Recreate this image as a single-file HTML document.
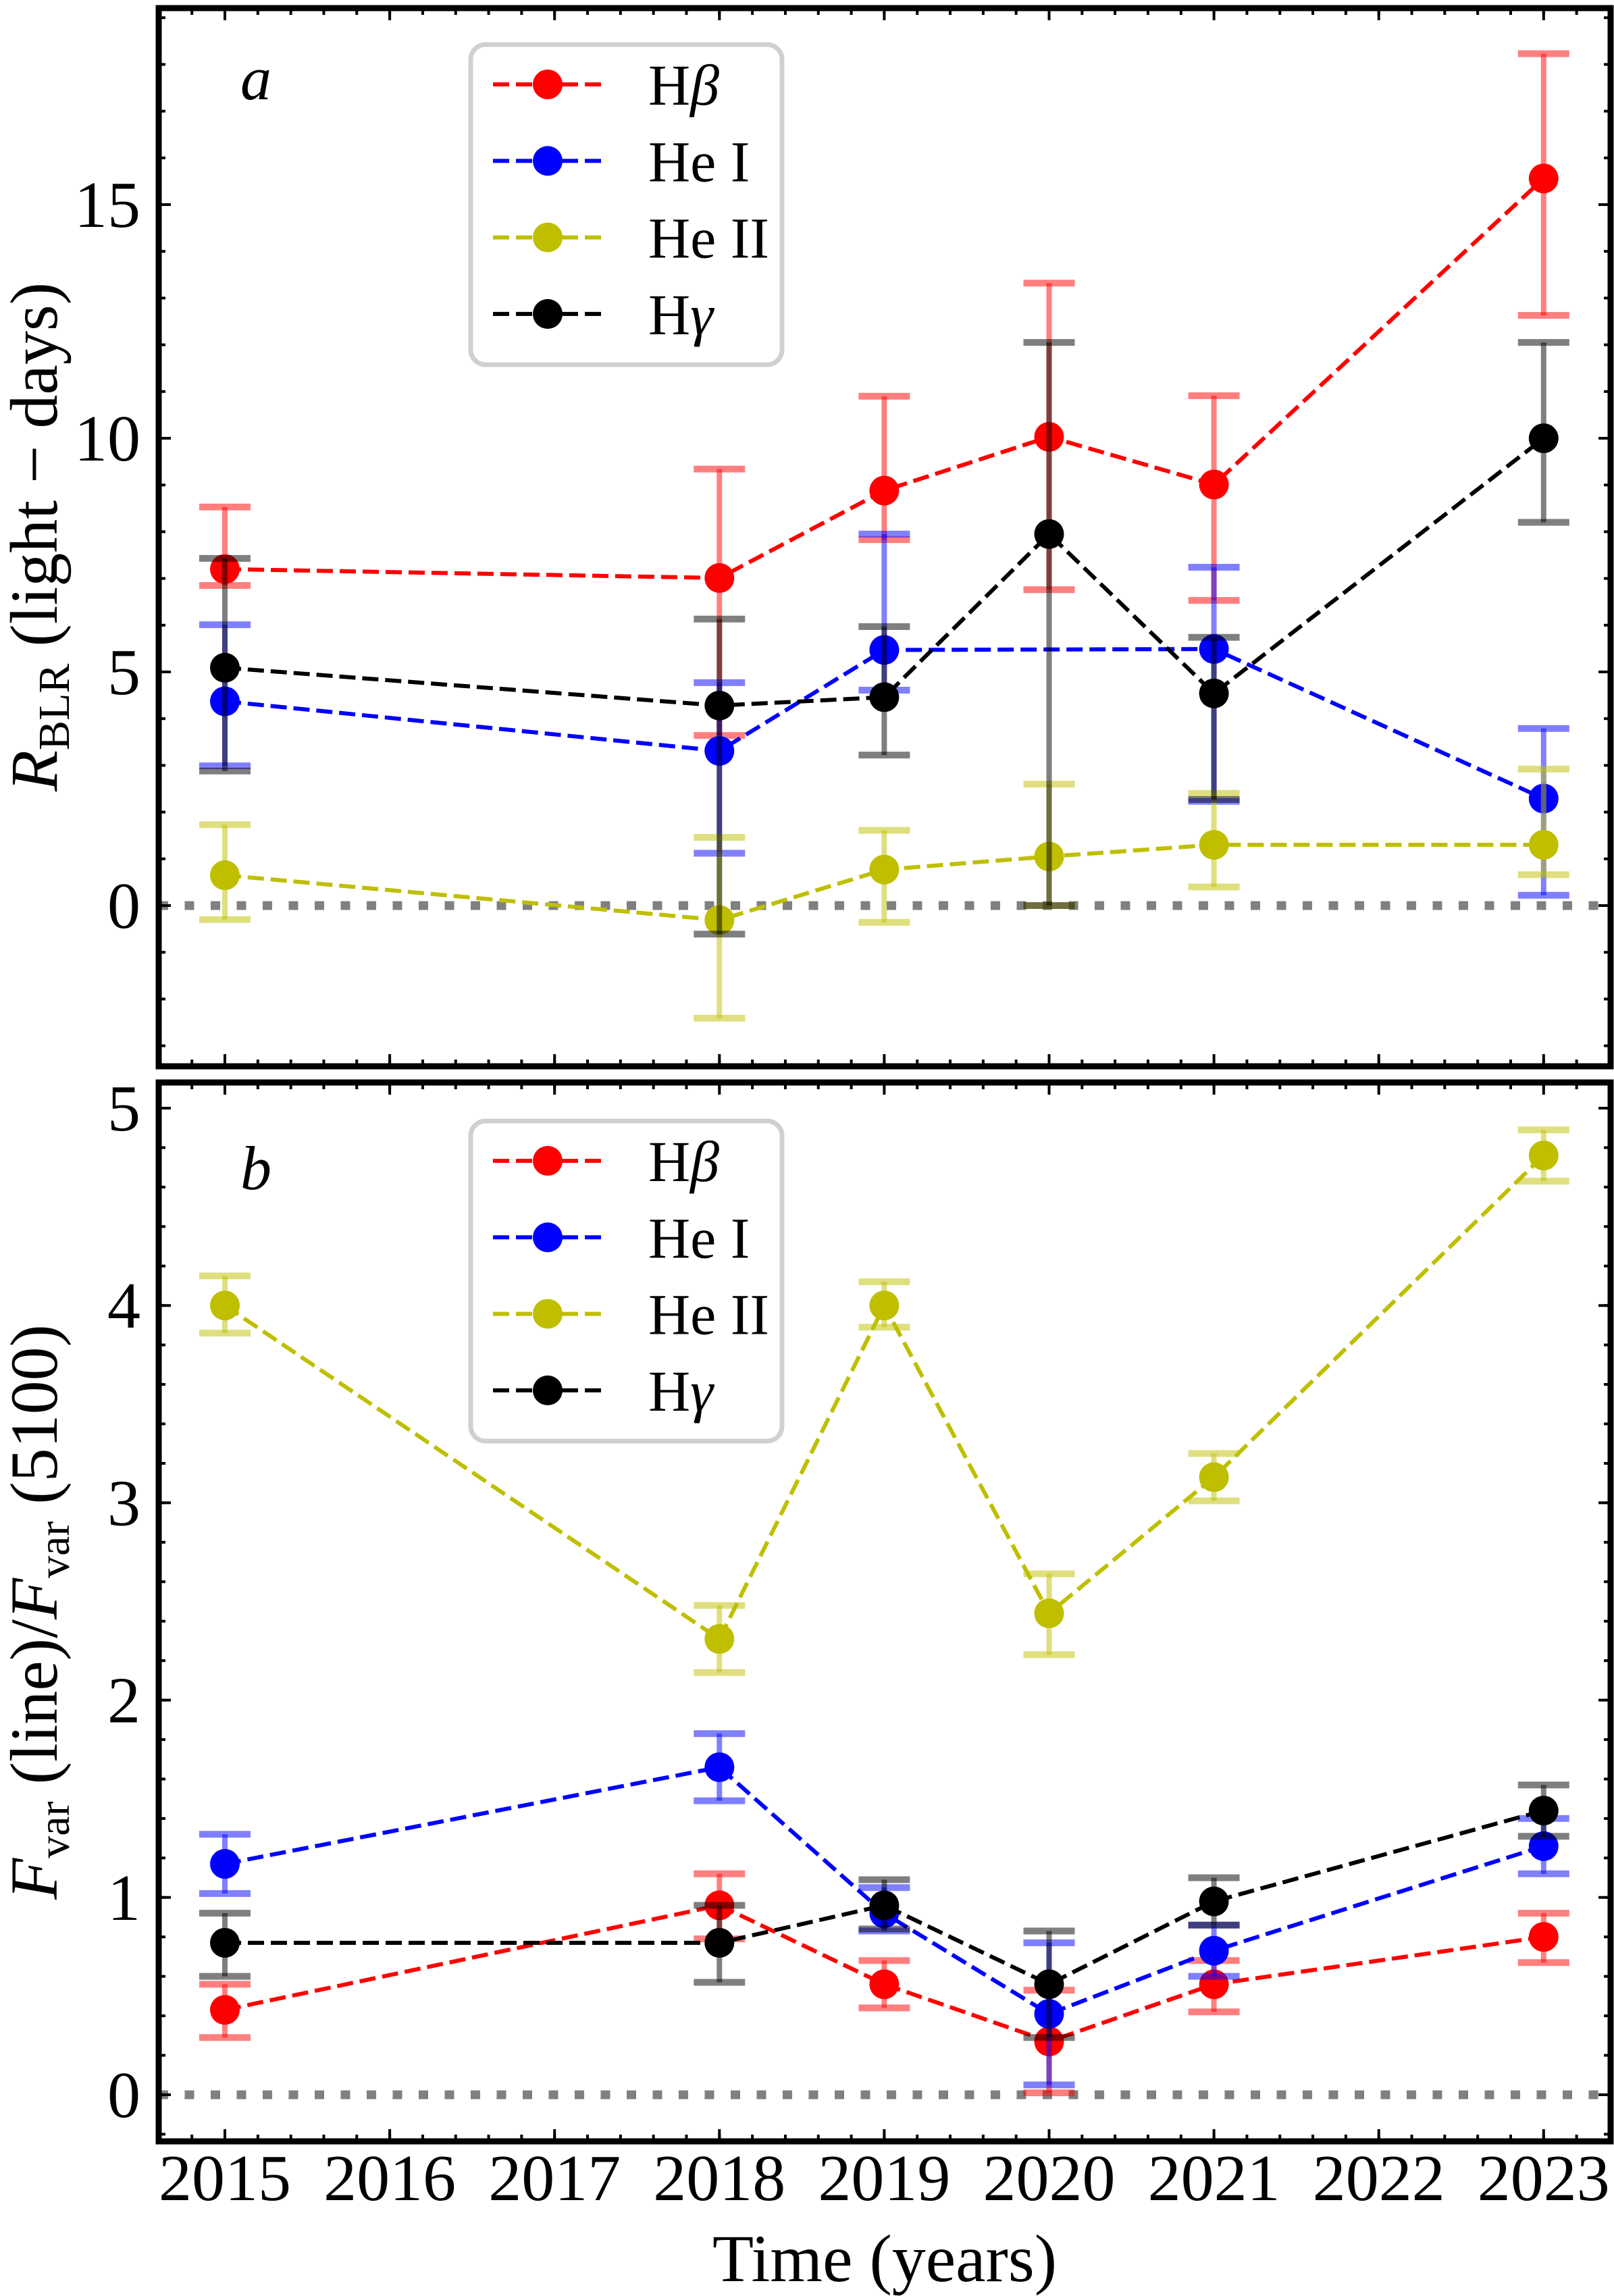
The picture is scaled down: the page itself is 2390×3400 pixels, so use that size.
<!DOCTYPE html>
<html><head><meta charset="utf-8"><style>
html,body{margin:0;padding:0;background:#fff;}
svg{display:block;}
text{font-family:"Liberation Serif","DejaVu Serif",serif;fill:#000;}
</style></head><body>
<svg id="chart" xmlns="http://www.w3.org/2000/svg" width="2390" height="3400" viewBox="0 0 2390 3400">
<defs>
<clipPath id="clipTop"><rect x="235" y="12" width="2150" height="1567"/></clipPath>
<clipPath id="clipBot"><rect x="235" y="1603" width="2150" height="1568"/></clipPath>
</defs>
<g id="gTop"></g>
<g id="gBot"></g>
<text x="1310" y="3378" font-size="100" text-anchor="middle">Time (years)</text>
<text transform="translate(84,795) rotate(-90)" font-size="100" text-anchor="middle"><tspan font-style="italic">R</tspan><tspan font-size="66" dy="18">BLR</tspan><tspan dy="-18"> (light − days)</tspan></text>
<text transform="translate(84,2387) rotate(-90)" font-size="100" text-anchor="middle"><tspan font-style="italic">F</tspan><tspan font-size="66" dy="18">var</tspan><tspan dy="-18"> (line)/</tspan><tspan font-style="italic">F</tspan><tspan font-size="66" dy="18">var</tspan><tspan dy="-18"> (5100)</tspan></text>
<text x="356" y="147" font-size="92" font-style="italic">a</text>
<text x="356" y="1761" font-size="92" font-style="italic">b</text>
</svg>
<script>
const years=[2015,2018,2019,2020,2021,2023];
const heiYearsTop=[2015,2018,2019,2021,2023];
// Panel a: R_BLR
const hbR=[7.20,7.01,8.88,10.03,9.01,15.56];
const hbRlo=[6.85,3.64,7.83,6.76,6.53,12.63];
const hbRhi=[8.53,9.34,10.90,13.32,10.91,18.23];
const heiR=[4.37,3.31,5.47,5.49,2.29];
const heiRlo=[2.99,1.12,4.61,2.23,0.22];
const heiRhi=[6.01,4.77,7.95,7.24,3.79];
const heiiR=[0.65,-0.31,0.77,1.05,1.30,1.30];
const heiiRlo=[-0.30,-2.41,-0.36,0.00,0.40,0.66];
const heiiRhi=[1.73,1.46,1.61,2.60,2.40,2.92];
const hgR=[5.09,4.28,4.46,7.95,4.54,10.00];
const hgRlo=[2.88,-0.61,3.22,0.00,2.27,8.20];
const hgRhi=[7.43,6.13,5.97,12.05,5.74,12.05];
// Panel b: Fvar ratio
const hbF=[0.43,0.96,0.56,0.27,0.56,0.80];
const hbFlo=[0.29,0.79,0.44,0.01,0.42,0.67];
const hbFhi=[0.56,1.12,0.68,0.53,0.68,0.92];
const heiF=[1.17,1.66,0.92,0.41,0.73,1.26];
const heiFlo=[1.02,1.49,0.83,0.05,0.60,1.12];
const heiFhi=[1.32,1.83,1.05,0.77,0.86,1.40];
const heiiF=[4.00,2.31,4.00,2.44,3.13,4.76];
const heiiFlo=[3.86,2.14,3.89,2.23,3.01,4.63];
const heiiFhi=[4.15,2.48,4.12,2.64,3.25,4.89];
const hgF=[0.77,0.77,0.96,0.56,0.98,1.44];
const hgFlo=[0.60,0.57,0.84,0.29,0.86,1.31];
const hgFhi=[0.92,0.96,1.09,0.83,1.10,1.57];
const xTicks=[2015,2016,2017,2018,2019,2020,2021,2022,2023];
const yTicksTop=[0,5,10,15];
const yTicksBot=[0,1,2,3,4,5];
const seriesNames=["Hβ","He I","He II","Hγ"];

const NS="http://www.w3.org/2000/svg";
const L=235,R=2385;
function xs(v){return 333+(v-2015)*244.1;}
function yTop(v){return 1341-69.2*v;}
function yBot(v){return 3102-292.2*v;}
function mk(tag,attrs,parent){const e=document.createElementNS(NS,tag);for(const k in attrs)e.setAttribute(k,attrs[k]);parent.appendChild(e);return e;}

function drawPanel(g,clip,ys,top,bot,yMaj,yMinStart,yMinEnd,yMinStep,series,key,showXLabels){
  const plot=mk('g',{'clip-path':'url(#'+clip+')'},g);
  
  
  const zl=mk('line',{x1:L,x2:R,y1:ys(0),y2:ys(0),stroke:'#808080','stroke-width':13,'stroke-dasharray':'14 24.5'},plot);
  
  
  series.forEach(s=>{
    const sg=mk('g',{},plot);
    
    
    s.x.forEach((yr,i)=>{
      const cx=xs(yr),y1=ys(s.lo[i]),y2=ys(s.hi[i]);
      const eb=mk('g',{stroke:s.c,'stroke-opacity':0.5},sg);
      
      
      mk('line',{x1:cx,x2:cx,y1:y1,y2:y2,'stroke-width':8},eb);
      mk('line',{x1:cx-38,x2:cx+38,y1:y1,y2:y1,'stroke-width':10},eb);
      mk('line',{x1:cx-38,x2:cx+38,y1:y2,y2:y2,'stroke-width':10},eb);
    });
    const pts=s.x.map((yr,i)=>xs(yr)+','+ys(s.v[i])).join(' ');
    const pl=mk('polyline',{points:pts,fill:'none',stroke:s.c,'stroke-width':6,'stroke-dasharray':'24 10'},sg);
    
    
    s.x.forEach((yr,i)=>{
      const c=mk('circle',{cx:xs(yr),cy:ys(s.v[i]),r:22,fill:s.c},sg);
      
      
    });
  });
  // ticks
  const tg=mk('g',{stroke:'#000','stroke-width':4},g);
  
  
  xTicks.forEach(t=>{const x=xs(t);
    mk('line',{x1:x,x2:x,y1:bot,y2:bot-18},tg);mk('line',{x1:x,x2:x,y1:top,y2:top+18},tg);});
  for(let t=2014.6;t<=2023.45;t+=0.2){const x=xs(t);
    mk('line',{x1:x,x2:x,y1:bot,y2:bot-10},tg);mk('line',{x1:x,x2:x,y1:top,y2:top+10},tg);}
  yMaj.forEach(t=>{const y=ys(t);
    mk('line',{x1:L,x2:L+18,y1:y,y2:y},tg);mk('line',{x1:R,x2:R-18,y1:y,y2:y},tg);
    const tx=mk('text',{x:208,y:y+33,'font-size':98,'text-anchor':'end'},g);tx.textContent=t;
    
    
  });
  for(let t=yMinStart;t<=yMinEnd+1e-6;t+=yMinStep){const y=ys(t);
    if(y<top||y>bot)continue;
    mk('line',{x1:L,x2:L+10,y1:y,y2:y},tg);mk('line',{x1:R,x2:R-10,y1:y,y2:y},tg);}
  if(showXLabels){xTicks.forEach(t=>{
    const tx=mk('text',{x:xs(t),y:3258,'font-size':98,'text-anchor':'middle'},g);tx.textContent=t;
    
    
  });}
  const fr=mk('rect',{x:L,y:top,width:R-L,height:bot-top,fill:'none',stroke:'#000','stroke-width':9},g);
  
  
}

function drawLegend(g,top,key){
  const lg=mk('g',{},g);
  
  
  mk('rect',{x:697,y:top,width:461,height:474,rx:22,fill:'#fff','fill-opacity':0.8,stroke:'#d0d0d0','stroke-width':7},lg);
  const cols=['#ff0000','#0000ff','#bfbf00','#000000'];
  const labels=[['H','β'],['He I',''],['He II',''],['H','γ']];
  for(let i=0;i<4;i++){
    const y=top+59+i*113.3;
    const e=mk('g',{},lg);
    
    
    mk('line',{x1:730,x2:892,y1:y,y2:y,stroke:cols[i],'stroke-width':6,'stroke-dasharray':'24 10'},e);
    mk('circle',{cx:811,cy:y,r:22,fill:cols[i]},e);
    const t=mk('text',{x:960,y:y+30,'font-size':86},e);
    const a=mk('tspan',{},t);a.textContent=labels[i][0];
    if(labels[i][1]){const b=mk('tspan',{'font-style':'italic'},t);b.textContent=labels[i][1];}
  }
}

const topSeries=[
 {id:'hbeta',c:'#ff0000',x:years,v:hbR,lo:hbRlo,hi:hbRhi},
 {id:'hei',c:'#0000ff',x:heiYearsTop,v:heiR,lo:heiRlo,hi:heiRhi},
 {id:'heii',c:'#bfbf00',x:years,v:heiiR,lo:heiiRlo,hi:heiiRhi},
 {id:'hgamma',c:'#000000',x:years,v:hgR,lo:hgRlo,hi:hgRhi}];
const botSeries=[
 {id:'hbeta',c:'#ff0000',x:years,v:hbF,lo:hbFlo,hi:hbFhi},
 {id:'hei',c:'#0000ff',x:years,v:heiF,lo:heiFlo,hi:heiFhi},
 {id:'heii',c:'#bfbf00',x:years,v:heiiF,lo:heiiFlo,hi:heiiFhi},
 {id:'hgamma',c:'#000000',x:years,v:hgF,lo:hgFlo,hi:hgFhi}];

const gTop=document.getElementById('gTop'),gBot=document.getElementById('gBot');
drawPanel(gTop,'clipTop',yTop,12,1579,yTicksTop,-3,19,1,topSeries,'a',false);
drawLegend(gTop,66,'a');
drawPanel(gBot,'clipBot',yBot,1603,3171,yTicksBot,-0.2,5.1,0.2,botSeries,'b',true);
drawLegend(gBot,1660,'b');
</script>
</body></html>
